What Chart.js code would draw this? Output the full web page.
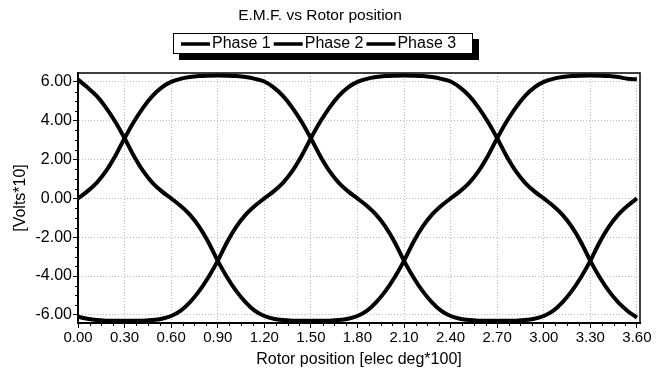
<!DOCTYPE html>
<html>
<head>
<meta charset="utf-8">
<script src="https://cdn.jsdelivr.net/npm/chart.js@4/dist/chart.umd.min.js"></script>
<style>
  html, body { margin: 0; padding: 0; background: #fff; }
  #wrap { width: 664px; height: 370px; position: relative; }
</style>
</head>
<body>
<div id="wrap"><canvas id="emf"></canvas></div>
<script>
// Rotor position samples [elec deg*100], every 6 elec deg
const rotorPos = [
    0.00, 0.06, 0.12, 0.18, 0.24, 0.30, 0.36, 0.42, 0.48, 0.54,
    0.60, 0.66, 0.72, 0.78, 0.84, 0.90, 0.96, 1.02, 1.08, 1.14,
    1.20, 1.26, 1.32, 1.38, 1.44, 1.50, 1.56, 1.62, 1.68, 1.74,
    1.80, 1.86, 1.92, 1.98, 2.04, 2.10, 2.16, 2.22, 2.28, 2.34,
    2.40, 2.46, 2.52, 2.58, 2.64, 2.70, 2.76, 2.82, 2.88, 2.94,
    3.00, 3.06, 3.12, 3.18, 3.24, 3.30, 3.36, 3.42, 3.48, 3.54,
    3.60
];

// E.M.F. [Volts*10]
const phase1 = [
    0.00, 0.36, 0.80, 1.40, 2.18, 3.10, 3.95, 4.68, 5.28, 5.72,
    6.00, 6.16, 6.25, 6.30, 6.32, 6.33, 6.32, 6.30, 6.25, 6.16,
    6.02, 5.72, 5.28, 4.68, 3.95, 3.10, 2.18, 1.40, 0.80, 0.36,
    0.00, -0.38, -0.84, -1.46, -2.26, -3.22, -4.06, -4.78, -5.36, -5.80,
    -6.06, -6.20, -6.27, -6.30, -6.31, -6.31, -6.31, -6.30, -6.27, -6.20,
    -6.06, -5.80, -5.36, -4.78, -4.06, -3.22, -2.26, -1.46, -0.84, -0.38,
    0.00
];
const phase2 = [
    -6.10, -6.20, -6.27, -6.30, -6.31, -6.31, -6.31, -6.30, -6.27, -6.20,
    -6.06, -5.80, -5.36, -4.78, -4.06, -3.22, -2.26, -1.46, -0.84, -0.38,
    0.00, 0.36, 0.80, 1.40, 2.18, 3.10, 3.95, 4.68, 5.28, 5.72,
    6.00, 6.16, 6.25, 6.30, 6.32, 6.33, 6.32, 6.30, 6.25, 6.16,
    6.02, 5.72, 5.28, 4.68, 3.95, 3.10, 2.18, 1.40, 0.80, 0.36,
    0.00, -0.38, -0.84, -1.46, -2.26, -3.22, -4.06, -4.78, -5.36, -5.80,
    -6.14
];
const phase3 = [
    6.12, 5.72, 5.28, 4.68, 3.95, 3.10, 2.18, 1.40, 0.80, 0.36,
    0.00, -0.38, -0.84, -1.46, -2.26, -3.22, -4.06, -4.78, -5.36, -5.80,
    -6.06, -6.20, -6.27, -6.30, -6.31, -6.31, -6.31, -6.30, -6.27, -6.20,
    -6.06, -5.80, -5.36, -4.78, -4.06, -3.22, -2.26, -1.46, -0.84, -0.38,
    0.00, 0.36, 0.80, 1.40, 2.18, 3.10, 3.95, 4.68, 5.28, 5.72,
    6.00, 6.16, 6.25, 6.30, 6.32, 6.33, 6.32, 6.30, 6.25, 6.16,
    6.14
];
const phaseLabels = ['Phase 1', 'Phase 2', 'Phase 3'];

const FONT = '"Liberation Sans", Arial, sans-serif';

// small tick marks between the labelled ones, plus the plot frame
const minorTicks = {
    id: 'minorTicks',
    afterDraw(chart) {
        const { ctx, chartArea, scales: { x, y } } = chart;
        ctx.save();
        ctx.strokeStyle = '#000';
        ctx.lineWidth = 1;
        ctx.beginPath();
        for (let i = 0; i <= 48; i++) {
            if (i % 4 === 0) continue;
            const px = Math.round(x.getPixelForValue(i * 0.075)) + 0.5;
            ctx.moveTo(px, chartArea.bottom);
            ctx.lineTo(px, chartArea.bottom + 3);
        }
        for (let i = -12; i <= 12; i++) {
            if (i % 4 === 0) continue;
            const py = Math.round(y.getPixelForValue(i * 0.5)) + 0.5;
            ctx.moveTo(chartArea.left, py);
            ctx.lineTo(chartArea.left - 3, py);
        }
        ctx.stroke();
        ctx.lineWidth = 1.5;
        ctx.strokeRect(chartArea.left, chartArea.top, chartArea.right - chartArea.left, chartArea.bottom - chartArea.top);
        ctx.restore();
    }
};

// legend in a box with a drop shadow
const boxedLegend = {
    id: 'boxedLegend',
    afterDraw(chart) {
        const ctx = chart.ctx;
        const box = { left: 173, top: 33, width: 300, height: 21 };
        const lineLen = 29;
        ctx.save();
        ctx.fillStyle = '#000';
        ctx.fillRect(box.left + 6, box.top + 6, box.width, box.height);
        ctx.fillStyle = '#fff';
        ctx.fillRect(box.left, box.top, box.width, box.height);
        ctx.strokeStyle = '#000';
        ctx.lineWidth = 1;
        ctx.strokeRect(box.left + 0.5, box.top + 0.5, box.width - 1, box.height - 1);

        ctx.font = '16px ' + FONT;
        ctx.textBaseline = 'middle';
        const labels = chart.data.datasets.map(ds => ds.label);
        const widths = labels.map(t => ctx.measureText(t).width);
        let cx = box.left + 8;
        const cy = box.top + box.height / 2 + 0.5;
        labels.forEach((t, i) => {
            ctx.strokeStyle = '#000';
            ctx.lineWidth = 3.5;
            ctx.beginPath();
            ctx.moveTo(cx, cy);
            ctx.lineTo(cx + lineLen, cy);
            ctx.stroke();
            ctx.fillStyle = '#000';
            ctx.fillText(t, cx + lineLen + 2, cy);
            cx += lineLen + 2 + widths[i] + 3;
        });
        ctx.restore();
    }
};

function makeSeries(label, values) {
    return {
        label: label,
        data: rotorPos.map((p, i) => ({ x: p, y: values[i] })),
        borderColor: '#000',
        backgroundColor: '#000',
        borderWidth: 4,
        pointRadius: 0,
        cubicInterpolationMode: 'monotone',
        fill: false
    };
}

document.addEventListener('DOMContentLoaded', () => {
    new Chart(document.getElementById('emf'), {
        type: 'line',
        data: {
            datasets: [
                makeSeries(phaseLabels[0], phase1),
                makeSeries(phaseLabels[1], phase2),
                makeSeries(phaseLabels[2], phase3)
            ]
        },
        options: {
            responsive: true,
            maintainAspectRatio: false,
            animation: false,
            layout: { padding: { left: 0, right: 24, top: 0, bottom: 0 } },
            plugins: {
                legend: { display: false },
                tooltip: { enabled: false },
                title: {
                    display: true,
                    text: 'E.M.F. vs Rotor position',
                    color: '#000',
                    font: { family: FONT, size: 15.5, weight: 'normal' },
                    padding: { top: 6, bottom: 48.4 }
                }
            },
            scales: {
                x: {
                    type: 'linear',
                    min: 0,
                    max: 3.62,
                    afterFit: s => { s.height = 47; },
                    ticks: {
                        stepSize: 0.3,
                        includeBounds: false,
                        autoSkip: false,
                        maxRotation: 0,
                        color: '#000',
                        padding: 1,
                        font: { family: FONT, size: 15 },
                        callback: v => v.toFixed(2)
                    },
                    grid: { color: '#bdbdbd', lineWidth: 1, tickLength: 5, tickColor: '#000' },
                    border: { display: true, color: '#000', width: 2, dash: [1, 2] },
                    title: {
                        display: true,
                        text: 'Rotor position [elec deg*100]',
                        color: '#000',
                        font: { family: FONT, size: 16 },
                        padding: { top: 0, bottom: 1 }
                    }
                },
                y: {
                    type: 'linear',
                    min: -6.42,
                    max: 6.46,
                    afterFit: s => { s.width = 78; },
                    ticks: {
                        stepSize: 2,
                        includeBounds: false,
                        color: '#000',
                        padding: 1,
                        font: { family: FONT, size: 16 },
                        callback: v => v.toFixed(2)
                    },
                    grid: { color: '#bdbdbd', lineWidth: 1, tickLength: 5, tickColor: '#000' },
                    border: { display: true, color: '#000', width: 2, dash: [1, 2] },
                    title: {
                        display: true,
                        text: '[Volts*10]',
                        color: '#000',
                        font: { family: FONT, size: 16 },
                        padding: { top: 11, bottom: 0 }
                    }
                }
            }
        },
        plugins: [minorTicks, boxedLegend]
    });
});
</script>
</body>
</html>
